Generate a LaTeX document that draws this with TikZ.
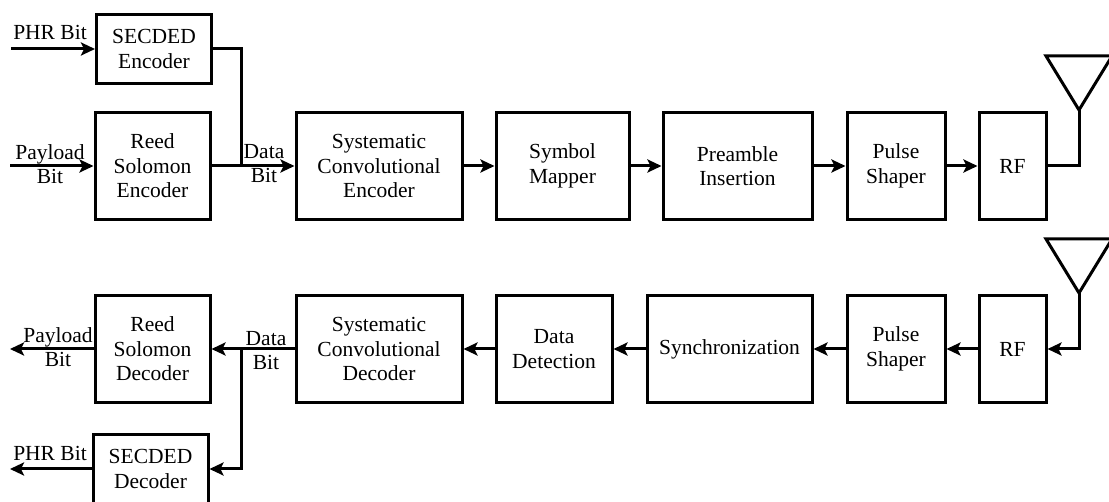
\documentclass[tikz,border=0pt]{standalone}
\usepackage{fontspec}
\setmainfont{Liberation Serif}
\usetikzlibrary{arrows.meta}
\begin{document}
\begin{tikzpicture}[x=1pt,y=-1pt,
  box/.style={draw, line width=3pt, align=center, inner sep=0pt, minimum height=107pt, font=\fontsize{21.5}{24.5}\selectfont},
  lbl/.style={align=center, inner sep=0pt, font=\fontsize{21.5}{24}\selectfont},
  wire/.style={line width=3pt, line join=miter},
  arr/.style={wire, -{Stealth[length=14pt,width=13pt,inset=3pt]}}]
\fill[white] (0,0) rectangle (1109,502);
\useasboundingbox (0,0) rectangle (1109,502);
% top row
\node[box, minimum width=115pt, minimum height=69pt] (sece) at (154,49) {SECDED\\Encoder};
\node[box, minimum width=115pt] (rse) at (152.5,166) {Reed\\Solomon\\Encoder};
\node[box, minimum width=166pt] (sce) at (379,166) {Systematic\\Convolutional\\Encoder};
\node[box, minimum width=133pt] (sm) at (562.5,166) {Symbol\\Mapper};
\node[box, minimum width=149pt] (pi) at (737.5,166) {Preamble\\Insertion};
\node[box, minimum width=98pt] (ps1) at (896,166) {Pulse\\Shaper};
\node[box, minimum width=67pt] (rf1) at (1012.5,166) {RF};
% bottom row
\node[box, minimum width=115pt] (rsd) at (152.5,349) {Reed\\Solomon\\Decoder};
\node[box, minimum width=166pt] (scd) at (379,349) {Systematic\\Convolutional\\Decoder};
\node[box, minimum width=116pt] (dd) at (554,349) {Data\\Detection};
\node[box, minimum width=165pt] (sync) at (729.5,349) {Synchronization};
\node[box, minimum width=98pt] (ps2) at (896,349) {Pulse\\Shaper};
\node[box, minimum width=67pt] (rf2) at (1012.5,349) {RF};
\node[box, minimum width=115pt, minimum height=69pt] (secd) at (150.5,469) {SECDED\\Decoder};
% labels
\node[lbl] (l1) at (50,32) {PHR Bit};
\node[lbl] (l2) at (50,164) {Payload\\Bit};
\node[lbl] (l3) at (264,164) {Data\\Bit};
\node[lbl] (l4) at (58,347) {Payload\\Bit};
\node[lbl] (l5) at (266,351) {Data\\Bit};
\node[lbl] (l6) at (50,453) {PHR Bit};
% coordinates
\coordinate (phrin) at (11,49);
\coordinate (plin) at (10,166);
\coordinate (j1) at (241,166);
\coordinate (ant1) at (1079,110);
\coordinate (ant2) at (1079,293);
\coordinate (j2) at (241,349);
\coordinate (plout) at (10,349);
\coordinate (phrout) at (10,469);
% top connectors
\draw[arr] (phrin) -- (sece.west);
\draw[arr] (plin) -- (rse.west);
\draw[wire] (sece.east) -| (j1);
\draw[arr] (rse.east) -- (sce.west);
\draw[arr] (sce.east) -- (sm.west);
\draw[arr] (sm.east) -- (pi.west);
\draw[arr] (pi.east) -- (ps1.west);
\draw[arr] (ps1.east) -- (rf1.west);
\draw[wire] (rf1.east) -| (ant1);
\draw[wire] (ant1) -- (1046,56) -- (1112,56) -- cycle;
% bottom connectors
\draw[wire] (ant2) -- (1046,239) -- (1112,239) -- cycle;
\draw[arr] (ant2) |- (rf2.east);
\draw[arr] (rf2.west) -- (ps2.east);
\draw[arr] (ps2.west) -- (sync.east);
\draw[arr] (sync.west) -- (dd.east);
\draw[arr] (dd.west) -- (scd.east);
\draw[arr] (scd.west) -- (rsd.east);
\draw[arr] (j2) |- (secd.east);
\draw[arr] (rsd.west) -- (plout);
\draw[arr] (secd.west) -- (phrout);
\end{tikzpicture}
\end{document}
